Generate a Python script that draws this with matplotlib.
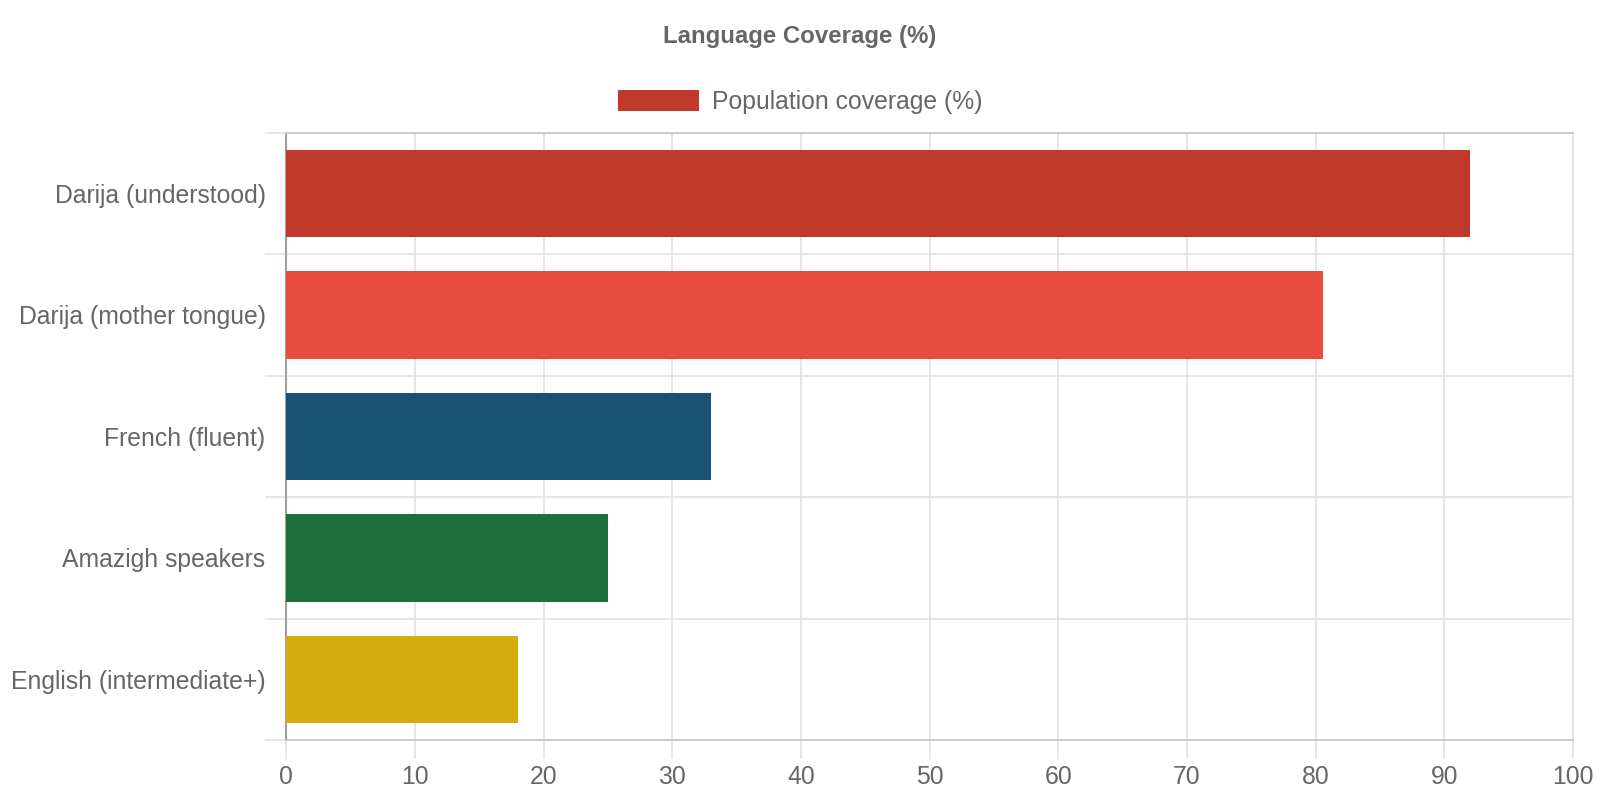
import matplotlib
matplotlib.use('Agg')
import matplotlib.pyplot as plt
import numpy as np

languages = ['Darija (understood)', 'Darija (mother tongue)', 'French (fluent)',
             'Amazigh speakers', 'English (intermediate+)']
coverage = [92, 80.6, 33, 25, 18]
colors = ['#c0392b', '#e74c3c', '#1a5276', '#1e6f3b', '#d4ac0d']
x_ticks = [0, 10, 20, 30, 40, 50, 60, 70, 80, 90, 100]

plt.rcParams['font.family'] = ['Liberation Sans', 'DejaVu Sans']
text_color = '#666666'
grid_color = '#e1e1e1'
label_size = 17.8

fig = plt.figure(figsize=(16, 8), dpi=100)
ax = fig.add_axes([0.179, 0.075, 0.804, 0.759])

y = np.arange(len(languages))
bars = ax.barh(y, coverage, height=0.72, color=colors, zorder=3)

ax.set_xlim(0, 100)
ax.set_ylim(len(languages) - 0.5, -0.5)

# x axis: vertical grid lines that run down past the axis as ticks
ax.set_xticks(x_ticks)
ax.set_xticklabels([str(t) for t in x_ticks])
ax.tick_params(axis='x', length=14, width=1.2, color=grid_color,
               labelsize=label_size, labelcolor=text_color, pad=4)
ax.grid(axis='x', color=grid_color, linewidth=1.2, zorder=0)

# y axis: grid lines between categories, labels centered on bars
ax.set_yticks(y)
ax.set_yticklabels(languages)
ax.set_yticks(np.arange(-0.5, len(languages)), minor=True)
ax.tick_params(axis='y', which='major', length=0, labelsize=label_size,
               labelcolor=text_color, pad=15)
ax.tick_params(axis='y', which='minor', length=15, width=1.2, color=grid_color)
ax.grid(axis='y', which='minor', color=grid_color, linewidth=1.2, zorder=0)

for side in ['top', 'bottom']:
    ax.spines[side].set_color('#c8c8c8')
    ax.spines[side].set_linewidth(1.3)
ax.spines['right'].set_color(grid_color)
ax.spines['right'].set_linewidth(1.2)
ax.spines['left'].set_color('#a0a0a0')
ax.spines['left'].set_linewidth(1.5)

fig.text(0.5, 1 - 37 / 800, 'Language Coverage (%)', ha='center', va='center',
         fontsize=17.3, fontweight='bold', color=text_color)

ax.legend([bars[0]], ['Population coverage (%)'], loc='center',
          bbox_to_anchor=(0.5, 1 - 102 / 800), bbox_transform=fig.transFigure,
          frameon=False, fontsize=label_size, labelcolor=text_color,
          handlelength=3.3, handleheight=0.95, handletextpad=0.5)

fig.savefig('out.png', dpi=100)
